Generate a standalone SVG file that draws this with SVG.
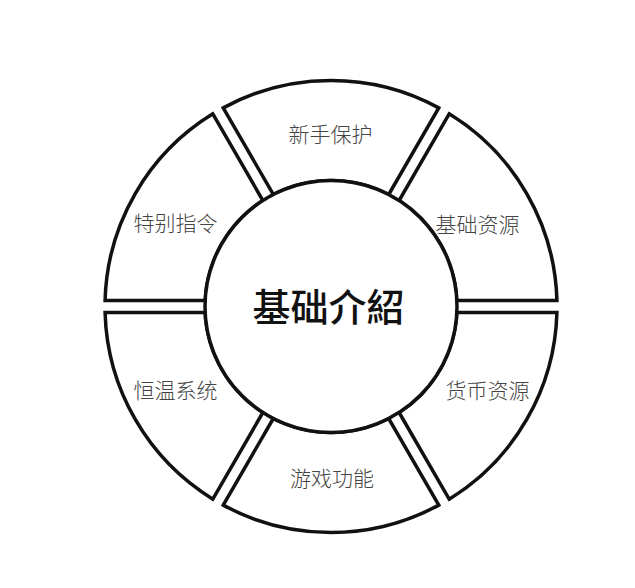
<svg xmlns="http://www.w3.org/2000/svg" width="635" height="588" viewBox="0 0 635 588">
<style>
.seg{fill:#fff;stroke:#111;stroke-width:3.5;stroke-linejoin:miter}
.lbl{font-family:"Noto Sans CJK SC","Noto Sans CJK TC",sans-serif;font-size:21px;font-weight:300;fill:#444;text-anchor:middle}
.ctr{font-family:"Noto Sans CJK SC","Noto Sans CJK TC",sans-serif;font-size:38px;font-weight:500;fill:#111;text-anchor:middle}
</style>
<rect width="635" height="588" fill="#fff"/>
<g id="node-jichuziyuan">
<path class="seg" d="M456.86,300.5 L556.92,300.5 A226,226 0 0 0 449.16,113.85 L399.13,200.5 A126,126 0 0 1 456.86,300.5 Z"/>
<text class="lbl" x="477.5" y="232">基础资源</text>
</g>
<g id="node-xinshoubaohu">
<path class="seg" d="M388.73,194.5 L438.76,107.85 A226,226 0 0 0 223.24,107.85 L273.27,194.5 A126,126 0 0 1 388.73,194.5 Z"/>
<text class="lbl" x="330.5" y="142">新手保护</text>
</g>
<g id="node-tebiezhiling">
<path class="seg" d="M262.87,200.5 L212.84,113.85 A226,226 0 0 0 105.08,300.5 L205.14,300.5 A126,126 0 0 1 262.87,200.5 Z"/>
<text class="lbl" x="175.5" y="231">特别指令</text>
</g>
<g id="node-hengwenxitong">
<path class="seg" d="M205.14,312.5 L105.08,312.5 A226,226 0 0 0 212.84,499.15 L262.87,412.5 A126,126 0 0 1 205.14,312.5 Z"/>
<text class="lbl" x="175.5" y="398">恒温系统</text>
</g>
<g id="node-youxigongneng">
<path class="seg" d="M273.27,418.5 L223.24,505.15 A226,226 0 0 0 438.76,505.15 L388.73,418.5 A126,126 0 0 1 273.27,418.5 Z"/>
<text class="lbl" x="332" y="486">游戏功能</text>
</g>
<g id="node-huobiziyuan">
<path class="seg" d="M399.13,412.5 L449.16,499.15 A226,226 0 0 0 556.92,312.5 L456.86,312.5 A126,126 0 0 1 399.13,412.5 Z"/>
<text class="lbl" x="487.5" y="398">货币资源</text>
</g>
<g id="node-center">
<circle class="seg" cx="331" cy="306.5" r="126"/>
<text class="ctr" x="328.5" y="320.5">基础介紹</text>
</g>
</svg>
